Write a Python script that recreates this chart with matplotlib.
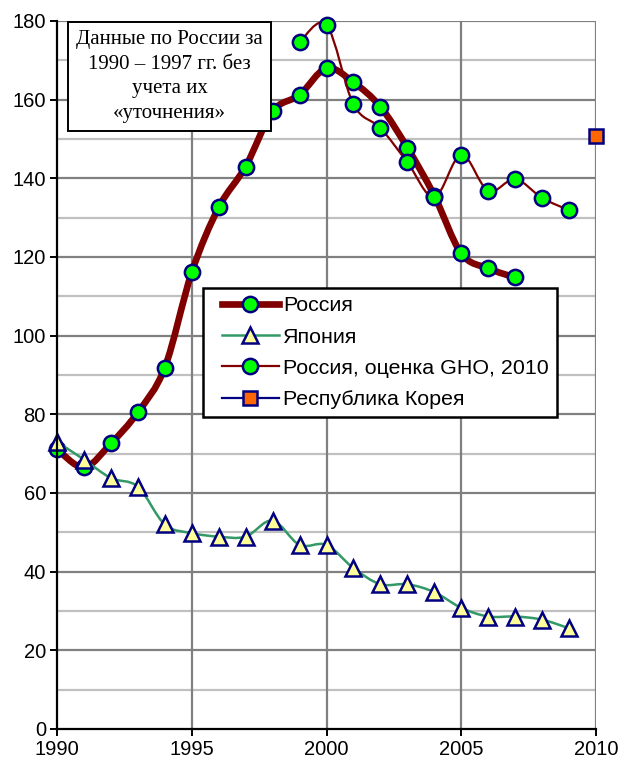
"""Смертность: Россия, Япония, Корея (1990-2010), reproduction of an Excel-style chart."""

import matplotlib
matplotlib.use('Agg')
import matplotlib.pyplot as plt
import numpy as np
from matplotlib.path import Path
from matplotlib.patches import PathPatch
from matplotlib.lines import Line2D
from matplotlib.legend_handler import HandlerLine2D

# ---- data ----
russia_years = list(range(1990, 2008))
russia = [71.2, 66.5, 72.6, 80.5, 91.9, 116.1, 132.6, 143.0, 157.0, 161.2,
          168.0, 164.4, 158.2, 147.8, 135.6, 120.9, 117.1, 114.8]

japan_years = list(range(1990, 2010))
japan = [73.0, 68.5, 63.8, 61.6, 52.0, 49.8, 48.9, 48.9, 53.0, 46.8,
         46.8, 40.9, 36.8, 36.8, 34.8, 30.8, 28.6, 28.6, 27.8, 25.6]

gho_years = list(range(1999, 2010))
gho = [174.6, 179.0, 158.8, 152.8, 144.1, 135.2, 146.0, 136.8, 139.8, 135.0, 131.9]

korea_years = [2010]
korea = [150.8]

labels = ['Россия', 'Япония', 'Россия, оценка GHO, 2010', 'Республика Корея']
note = 'Данные по России за\n1990 – 1997 гг. без\nучета их\n«уточнения»'

DARK_RED = '#800000'
NAVY = '#000080'
GREEN = '#00FF00'
MS = 11


class PaddedLine(HandlerLine2D):
    """Legend handle shifted right a little, as in the Excel legend."""
    pad = 7.5  # points

    def create_artists(self, legend, orig_handle, xdescent, ydescent, width, height,
                       fontsize, trans):
        return super().create_artists(legend, orig_handle, xdescent - self.pad, ydescent,
                                      width - self.pad, height, fontsize, trans)


def smooth_path(xs, ys):
    """Bezier path through the points, like Excel's 'smoothed line'."""
    pts = np.column_stack([xs, ys]).astype(float)
    n = len(pts)
    verts = [pts[0]]
    codes = [Path.MOVETO]
    for i in range(n - 1):
        p0 = pts[i - 1] if i > 0 else pts[i]
        p1 = pts[i]
        p2 = pts[i + 1]
        p3 = pts[i + 2] if i + 2 < n else pts[i + 1]
        c1 = p1 + (p2 - p0) / 6.0
        c2 = p2 - (p3 - p1) / 6.0
        verts += [c1, c2, p2]
        codes += [Path.CURVE4] * 3
    return Path(verts, codes)


def add_series(ax, xs, ys, color, lw, marker, mfc, ms, z):
    ax.add_patch(PathPatch(smooth_path(xs, ys), fill=False, edgecolor=color,
                           linewidth=lw, zorder=z, capstyle='round', joinstyle='round'))
    ax.plot(xs, ys, linestyle='none', marker=marker, markersize=ms, markerfacecolor=mfc,
            markeredgecolor=NAVY, markeredgewidth=1.8, zorder=z + 0.5, clip_on=False)


def main():
    plt.rcParams['font.family'] = ['Liberation Sans', 'DejaVu Sans']

    fig = plt.figure(figsize=(6.24, 7.65), dpi=100)
    # plot area: x 57..596 px, y 21..729 px
    ax = fig.add_axes([57 / 624, 36 / 765, 539 / 624, 708 / 765])

    ax.set_xlim(1990, 2010)
    ax.set_ylim(0, 180)

    # grid: dark every 20, light every 10, vertical every 5 years
    for y in range(10, 180, 10):
        ax.axhline(y, color='#808080' if y % 20 == 0 else '#C0C0C0', lw=1.6, zorder=1)
    ax.axhline(180, color='#808080', lw=1.6, zorder=1)
    for x in (1995, 2000, 2005, 2010):
        ax.axvline(x, color='#808080', lw=1.6, zorder=1)

    add_series(ax, russia_years, russia, DARK_RED, 4.8, 'o', GREEN, MS, 3)
    add_series(ax, japan_years, japan, '#339966', 1.8, '^', '#FFFF99', MS, 4)
    add_series(ax, gho_years, gho, DARK_RED, 1.6, 'o', GREEN, MS, 5)
    ax.plot(korea_years, korea, linestyle='none', marker='s', markersize=9.5,
            markerfacecolor='#FF6600', markeredgecolor=NAVY, markeredgewidth=1.8,
            zorder=6, clip_on=False)

    for side in ('top', 'right'):
        ax.spines[side].set_visible(False)
    for side in ('left', 'bottom'):
        ax.spines[side].set_color('black')
        ax.spines[side].set_linewidth(1.6)
        ax.spines[side].set_zorder(7)

    ax.set_xticks([1990, 1995, 2000, 2005, 2010])
    ax.set_yticks(range(0, 181, 20))
    ax.tick_params(axis='both', direction='out', length=5, width=1.4, labelsize=14.5,
                   colors='black', pad=3)

    # note box: 67..272 px wide, 22..135 px tall
    ax.text((169.5 - 57) / 539, (729 - 76.5) / 708, note, transform=ax.transAxes,
            ha='center', va='center', fontsize=15,
            family=['Liberation Serif', 'DejaVu Serif'], linespacing=1.42, zorder=8,
            bbox=dict(boxstyle='square,pad=0.38', facecolor='white', edgecolor='black', lw=1.4))

    handles = [
        Line2D([], [], color=DARK_RED, lw=4.8, marker='o', ms=MS, mfc=GREEN, mec=NAVY, mew=1.8),
        Line2D([], [], color='#339966', lw=1.8, marker='^', ms=MS, mfc='#FFFF99', mec=NAVY, mew=1.8),
        Line2D([], [], color=DARK_RED, lw=1.6, marker='o', ms=MS, mfc=GREEN, mec=NAVY, mew=1.8),
        Line2D([], [], color=NAVY, lw=1.6, marker='s', ms=9.5, mfc='#FF6600', mec=NAVY, mew=1.8),
    ]
    leg = ax.legend(handles, labels, loc='upper left',
                    bbox_to_anchor=((203 - 57) / 539, (729 - 288) / 708),
                    handler_map={Line2D: PaddedLine()},
                    fontsize=15.4, frameon=True, fancybox=False, edgecolor='black',
                    framealpha=1, handlelength=3.15, handletextpad=0.2, labelspacing=0.58,
                    borderpad=0.38, borderaxespad=0)
    leg.get_frame().set_linewidth(1.8)
    leg.set_zorder(9)

    fig.savefig('out.png', dpi=100)


main()
